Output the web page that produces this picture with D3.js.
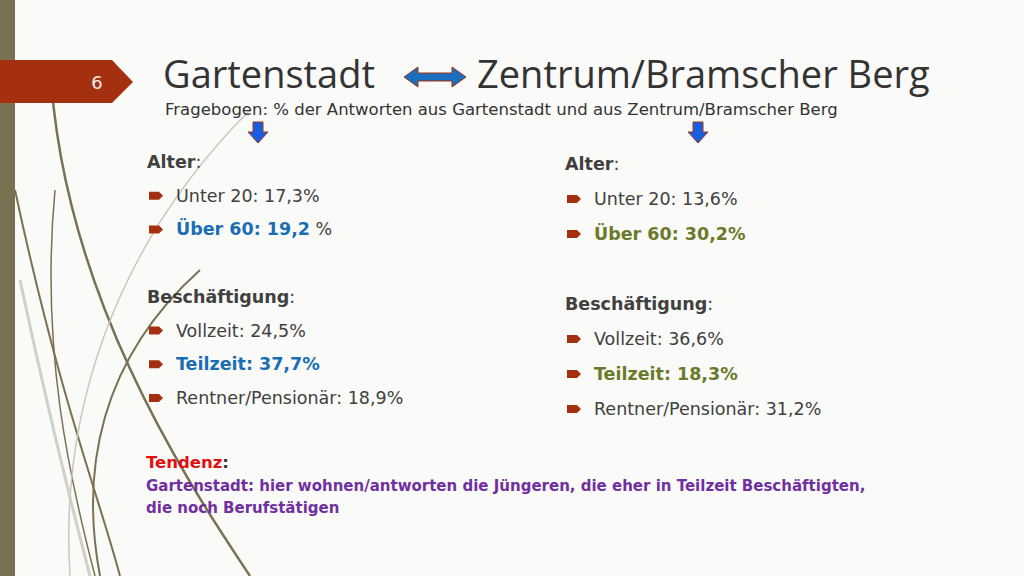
<!DOCTYPE html>
<html><head><meta charset="utf-8">
<script src="https://cdn.jsdelivr.net/npm/d3@7"></script>
<style>body{margin:0;background:#fafaf8}</style>
</head><body>
<script>
var leftLabels = ["Alter:", "Unter 20: 17,3%", "Über 60: 19,2 %", "", "Beschäftigung:", "Vollzeit: 24,5%", "Teilzeit: 37,7%", "Rentner/Pensionär: 18,9%"];
var rightLabels = ["Alter:", "Unter 20: 13,6%", "Über 60:  30,2%", "", "Beschäftigung:", "Vollzeit: 36,6%", "Teilzeit: 18,3%", "Rentner/Pensionär: 31,2%"];
var rowKind = ["head", "item", "hl", "gap", "head", "item", "hl", "item"];
var tendenz = ["Gartenstadt: hier wohnen/antworten die Jüngeren, die eher in Teilzeit Beschäftigten,", "die noch Berufstätigen"];

var width = 1024, height = 576;
var svg = d3.select("body").append("svg").attr("width", width).attr("height", height);
svg.append("rect").attr("width", width).attr("height", height).attr("fill", "#fafaf8");

// decorative curves
var curves = [
  {d: "M50,60 C60,300 200,500 250,576", c: "#7a7052", w: 2.5},
  {d: "M15,190 C60,400 100,500 120,576", c: "#7a7052", w: 2},
  {d: "M55,190 C40,350 70,480 95,576", c: "#7a7052", w: 1.5},
  {d: "M200,270 C100,360 80,470 100,576", c: "#7a7052", w: 2},
  {d: "M250,110 C110,250 60,420 70,576", c: "#c8c8c0", w: 1.5},
  {d: "M20,280 C50,420 70,500 90,576", c: "#d0d0c8", w: 3}
];
svg.selectAll("path.deco").data(curves).enter().append("path")
  .attr("d", function (d) { return d.d; }).attr("fill", "none")
  .attr("stroke", function (d) { return d.c; }).attr("stroke-width", function (d) { return d.w; });
svg.append("rect").attr("x", 0).attr("y", 0).attr("width", 15).attr("height", height).attr("fill", "#7a7052");

// ribbon
svg.append("path").attr("d", "M0,60 L112,60 L133,82 L112,103 L0,103 Z").attr("fill", "#a5300f");
svg.append("text").attr("x", 97).attr("y", 89).attr("text-anchor", "middle")
  .attr("font-family", "DejaVu Sans").attr("font-size", 18).attr("fill", "#eee").text("6");

// title
var f = "DejaVu Sans";
svg.append("text").attr("x", 163).attr("y", 88).attr("font-family", "Open Sans").attr("font-size", 38).attr("fill", "#333").text("Gartenstadt");
svg.append("text").attr("x", 477).attr("y", 88).attr("font-family", "Open Sans").attr("font-size", 38).attr("fill", "#333").text("Zentrum/Bramscher Berg");
svg.append("text").attr("x", 165).attr("y", 115).attr("font-family", f).attr("font-size", 16.5).attr("fill", "#333")
  .text("Fragebogen: % der Antworten aus Gartenstadt und aus Zentrum/Bramscher Berg");

// arrows
svg.append("path").attr("d", "M404,77 L418,67 L418,73 L452,73 L452,67 L466,77 L452,87 L452,81 L418,81 L418,87 Z")
  .attr("fill", "#1a6ec0").attr("stroke", "#a5300f").attr("stroke-width", 1);
[258, 698].forEach(function (x) {
  svg.append("path").attr("d", "M" + (x - 5) + ",122 L" + (x + 5) + ",122 L" + (x + 5) + ",132 L" + (x + 10) + ",132 L" + x + ",143 L" + (x - 10) + ",132 L" + (x - 5) + ",132 Z")
    .attr("fill", "#1a5ee0").attr("stroke", "#a5300f").attr("stroke-width", 1);
});

function column(labels, x0, y0, y1, hlColor) {
  var y = d3.scalePoint().domain(d3.range(labels.length)).range([y0, y1]);
  var g = svg.append("g");
  labels.forEach(function (t, i) {
    var k = rowKind[i];
    if (k === "gap") return;
    if (k === "head") {
      var tx = g.append("text").attr("x", x0).attr("y", y(i)).attr("font-family", f).attr("font-size", 17.5).attr("fill", "#404040");
      tx.append("tspan").attr("font-weight", "bold").text(t.replace(":", ""));
      tx.append("tspan").text(":");
      return;
    }
    var by = y(i) - 6;
    g.append("path").attr("d", "M" + (x0 + 2) + "," + (by - 4) + " L" + (x0 + 12) + "," + (by - 4) + " L" + (x0 + 16) + "," + by + " L" + (x0 + 12) + "," + (by + 4) + " L" + (x0 + 2) + "," + (by + 4) + " Z").attr("fill", "#a5300f");
    var tt = g.append("text").attr("x", x0 + 29).attr("y", y(i)).attr("font-family", f).attr("font-size", 17.5)
      .attr("fill", k === "hl" ? hlColor : "#404040").attr("font-weight", k === "hl" ? "bold" : "normal");
    if (t === "Über 60: 19,2 %") {
      tt.append("tspan").text("Über 60: 19,2");
      tt.append("tspan").attr("fill", "#404040").attr("font-weight", "normal").text(" %");
    } else tt.text(t);
  });
}
column(leftLabels, 147, 168, 404, "#1a6eb5");
column(rightLabels, 565, 170, 415, "#6b7a2a");

var tz = svg.append("text").attr("x", 146).attr("y", 468).attr("font-family", f).attr("font-size", 16.5).attr("font-weight", "bold");
tz.append("tspan").attr("fill", "#e01010").text("Tendenz");
tz.append("tspan").attr("fill", "#333").text(":");
var ty = d3.scalePoint().domain([0, 1]).range([491, 513]);
svg.selectAll("text.tz").data(tendenz).enter().append("text")
  .attr("x", 146).attr("y", function (d, i) { return ty(i); })
  .attr("font-family", f).attr("font-size", 15).attr("font-weight", "bold").attr("fill", "#7030a0").text(function (d) { return d; });
</script>
</body></html>
